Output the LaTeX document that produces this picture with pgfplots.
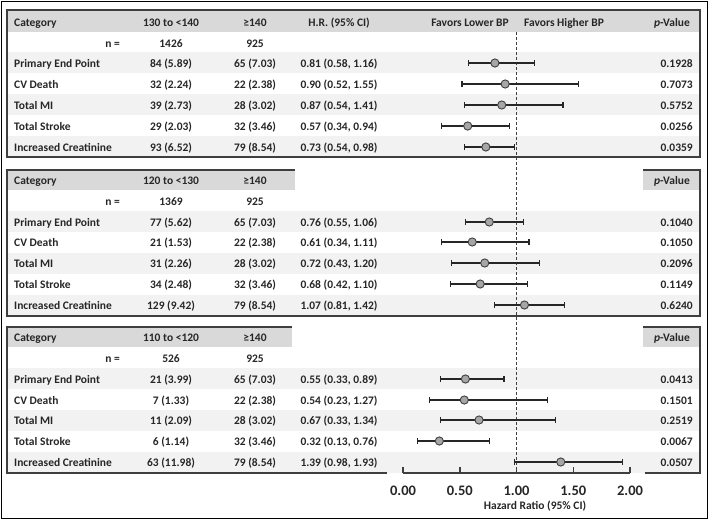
\documentclass[border=0pt]{standalone}
\usepackage{pgfplots}
\usepackage{pgfplotstable}
\pgfplotsset{compat=1.18}
\usepackage{fontspec}
\setmainfont{Carlito}
\definecolor{hdr}{HTML}{D9D9D9}
\definecolor{band}{HTML}{F2F2F2}
\definecolor{frm}{HTML}{3F3F3F}
\definecolor{txt}{HTML}{262626}
\definecolor{mkfill}{HTML}{A6A6A6}

\pgfplotstableread{
hr   y    lo   hi
0.81 -63  0.58 1.16
0.90 -84  0.52 1.55
0.87 -105 0.54 1.41
0.57 -126 0.34 0.94
0.73 -147 0.54 0.98
0.76 -222 0.55 1.06
0.61 -242 0.34 1.11
0.72 -263 0.43 1.20
0.68 -284 0.42 1.10
1.07 -305 0.81 1.42
0.55 -379 0.33 0.89
0.54 -400 0.23 1.27
0.67 -420 0.33 1.34
0.32 -441 0.13 0.76
1.39 -462 0.98 1.93
}\hrdata

\newcommand\hdrrow[4]{%
  \node[anchor=base west] at (14,#1+4) {Category};
  \node[anchor=base] at (171,#1+4) {#2};
  \node[anchor=base] at (255,#1+4) {≥140};
  \node[anchor=base] at (672,#1+4) {\textit{p}-Value};
  \node[anchor=base east] at (120,#1+25) {n =};
  \node[anchor=base] at (171,#1+25) {#3};
  \node[anchor=base] at (255,#1+25) {#4};
}
\newcommand\datarow[6]{%
  \node[anchor=base west] at (14,#1+4) {#2};
  \node[anchor=base] at (171,#1+4) {#3};
  \node[anchor=base] at (255,#1+4) {#4};
  \node[anchor=base] at (339,#1+4) {#5};
  \node[anchor=base east] at (693,#1+4) {#6};
}

\begin{document}
\begin{tikzpicture}[font=\fontsize{11.5}{13}\selectfont\bfseries,
  every node/.style={text=txt, inner sep=0pt}]
\begin{scope}[x=1pt,y=-1pt]
\path (0,0) rectangle (709,520);

% ---------- panel 1
\fill[hdr] (7,10) rectangle (700,32);
\foreach \y in {52,94,136} \fill[band] (7,\y) rectangle (700,\y+21);
\draw[frm, line width=1.5pt] (7,10) rectangle (700,157);

% ---------- panel 2
\fill[hdr] (7,170) rectangle (295,190);
\fill[hdr] (643,170) rectangle (700,190);
\foreach \y in {211,253,295} \fill[band] (7,\y) rectangle (700,\y+21);
\draw[frm, line width=1.5pt] (295,170) -- (7,170) -- (7,316) -- (700,316) -- (700,170) -- (643,170);

% ---------- panel 3
\fill[hdr] (7,327) rectangle (292,347);
\fill[hdr] (643,327) rectangle (700,347);
\foreach \y in {368,410,452} \fill[band] (7,\y) rectangle (700,\y+21);
\draw[frm, line width=1.5pt] (292,327) -- (7,327) -- (7,473) -- (387,473);
\draw[frm, line width=1.5pt] (645,473) -- (700,473) -- (700,327) -- (643,327);

% ---------- text panel 1
\hdrrow{22}{130 to <140}{1426}{925}
\node[anchor=base] at (339,26) {H.R. (95\% CI)};
\node[anchor=base] at (470,26) {Favors Lower BP};
\node[anchor=base] at (564,26) {Favors Higher BP};
\datarow{63}{Primary End Point}{84 (5.89)}{65 (7.03)}{0.81 (0.58, 1.16)}{0.1928}
\datarow{84}{CV Death}{32 (2.24)}{22 (2.38)}{0.90 (0.52, 1.55)}{0.7073}
\datarow{105}{Total MI}{39 (2.73)}{28 (3.02)}{0.87 (0.54, 1.41)}{0.5752}
\datarow{126}{Total Stroke}{29 (2.03)}{32 (3.46)}{0.57 (0.34, 0.94)}{0.0256}
\datarow{147}{Increased Creatinine}{93 (6.52)}{79 (8.54)}{0.73 (0.54, 0.98)}{0.0359}

% ---------- text panel 2
\hdrrow{180}{120 to <130}{1369}{925}
\datarow{222}{Primary End Point}{77 (5.62)}{65 (7.03)}{0.76 (0.55, 1.06)}{0.1040}
\datarow{242}{CV Death}{21 (1.53)}{22 (2.38)}{0.61 (0.34, 1.11)}{0.1050}
\datarow{263}{Total MI}{31 (2.26)}{28 (3.02)}{0.72 (0.43, 1.20)}{0.2096}
\datarow{284}{Total Stroke}{34 (2.48)}{32 (3.46)}{0.68 (0.42, 1.10)}{0.1149}
\datarow{305}{Increased Creatinine}{129 (9.42)}{79 (8.54)}{1.07 (0.81, 1.42)}{0.6240}

% ---------- text panel 3
\hdrrow{337}{110 to <120}{526}{925}
\datarow{379}{Primary End Point}{21 (3.99)}{65 (7.03)}{0.55 (0.33, 0.89)}{0.0413}
\datarow{400}{CV Death}{7 (1.33)}{22 (2.38)}{0.54 (0.23, 1.27)}{0.1501}
\datarow{420}{Total MI}{11 (2.09)}{28 (3.02)}{0.67 (0.33, 1.34)}{0.2519}
\datarow{441}{Total Stroke}{6 (1.14)}{32 (3.46)}{0.32 (0.13, 0.76)}{0.0067}
\datarow{462}{Increased Creatinine}{63 (11.98)}{79 (8.54)}{1.39 (0.98, 1.93)}{0.0507}
\end{scope}

% ---------- forest plot
\begin{axis}[at={(403pt,-473pt)}, anchor=south west,
  scale only axis, width=227pt, height=441pt,
  xmin=0, xmax=2, ymin=-473, ymax=-32, clip=false,
  axis x line*=bottom, axis y line=none,
  xtick={0,0.5,1,1.5,2}, xticklabels={0.00,0.50,1.00,1.50,2.00},
  tick align=inside, major tick length=6pt,
  x axis line style={frm, line width=1.5pt},
  every tick/.style={frm, line width=1.5pt},
  xticklabel style={font=\fontsize{14.5}{16}\selectfont\bfseries, anchor=north, inner sep=0pt, yshift=-13pt},
]
\addplot[frm, line width=1.1pt, dash pattern=on 3pt off 2pt, forget plot] coordinates {(1,-32) (1,-473)};
\addplot[only marks, mark=*, mark size=4.1pt,
  mark options={fill=mkfill, draw=frm, line width=0.9pt},
  error bars/.cd, x dir=both, x explicit,
  error bar style={line width=1.2pt, txt},
  error mark=|,
  error mark options={mark size=3pt, line width=1.1pt, txt}]
  table[x=hr, y=y,
    x error plus expr=\thisrow{hi}-\thisrow{hr},
    x error minus expr=\thisrow{hr}-\thisrow{lo}] {\hrdata};
\node[anchor=base] at (axis cs:1.163,-509) {Hazard Ratio (95\% CI)};
\end{axis}

\draw[black, line width=1.2pt] (1.5pt,-1.5pt) rectangle (707.5pt,-518.5pt);
\end{tikzpicture}
\end{document}
